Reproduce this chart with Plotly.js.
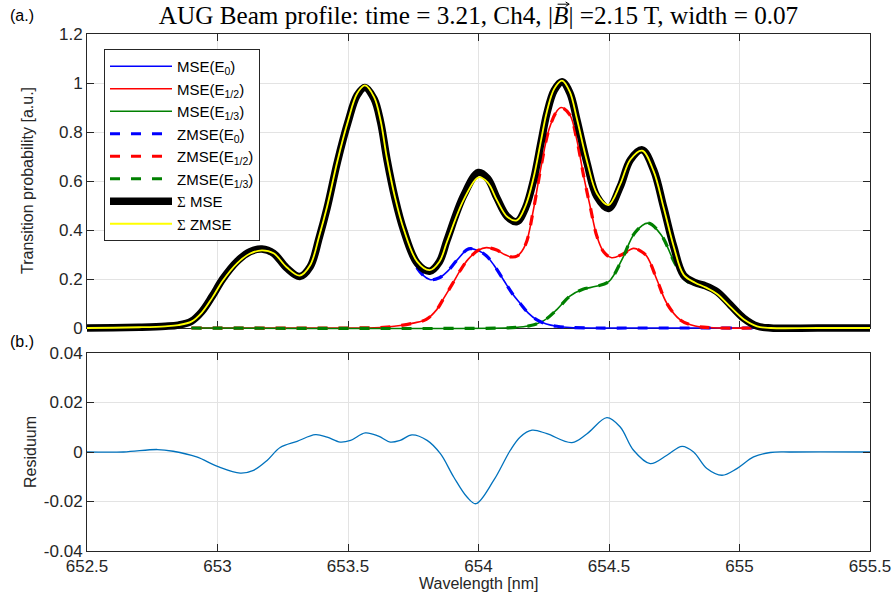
<!DOCTYPE html>
<html>
<head>
<meta charset="utf-8">
<script src="https://cdn.plot.ly/plotly-3.0.1.min.js"></script>
<style>
  html, body { margin: 0; padding: 0; background: #ffffff; }
  #chart { width: 894px; height: 599px; }
</style>
</head>
<body>
<div id="chart"></div>
<script>
// ---- Wavelength grid and profile values (nm, a.u.) ----
const tickVals = [652.5, 653, 653.5, 654, 654.5, 655, 655.5];
const tickText = ['652.5', '653', '653.5', '654', '654.5', '655', '655.5'];
const yTopVals = [0, 0.2, 0.4, 0.6, 0.8, 1, 1.2];
const yTopText = ['0', '0.2', '0.4', '0.6', '0.8', '1', '1.2'];
const yResVals = [-0.04, -0.02, 0, 0.02, 0.04];
const yResText = ['-0.04', '-0.02', '0', '0.02', '0.04'];

// Summed spectra
const sumX = [652.5, 652.6, 652.7, 652.8, 652.85, 652.9, 652.94, 652.98, 653.02, 653.075,
  653.125, 653.17, 653.215, 653.265, 653.315, 653.355, 653.39, 653.42, 653.46, 653.5,
  653.535, 653.565, 653.6, 653.625, 653.649, 653.68, 653.713, 653.765, 653.813, 653.85,
  653.88, 653.943, 654.0, 654.035, 654.071, 654.11, 654.147, 654.18, 654.211, 654.24,
  654.262, 654.29, 654.32, 654.35, 654.377, 654.416, 654.454, 654.498, 654.543, 654.582,
  654.627, 654.671, 654.709, 654.748, 654.786, 654.83, 654.87, 654.914, 654.965, 655.016,
  655.067, 655.12, 655.3, 655.5];
const sumMSE = [0, 0.001, 0.003, 0.007, 0.012, 0.028, 0.067, 0.13, 0.2, 0.272,
  0.312, 0.322, 0.305, 0.245, 0.21, 0.25, 0.37, 0.49, 0.68, 0.84,
  0.95, 0.982, 0.935, 0.84, 0.69, 0.53, 0.4, 0.265, 0.232, 0.27,
  0.36, 0.54, 0.635, 0.61, 0.53, 0.455, 0.434, 0.49, 0.604, 0.76,
  0.876, 0.97, 1.005, 0.96, 0.849, 0.672, 0.536, 0.488, 0.577, 0.686,
  0.727, 0.645, 0.495, 0.332, 0.215, 0.185, 0.172, 0.148, 0.094, 0.04,
  0.008, 0, 0, 0];
const sumZMSE = [0, 0.001, 0.003, 0.007, 0.012, 0.026, 0.063, 0.124, 0.193, 0.264,
  0.304, 0.317, 0.305, 0.248, 0.214, 0.256, 0.377, 0.496, 0.684, 0.845,
  0.957, 0.99, 0.942, 0.846, 0.694, 0.534, 0.405, 0.271, 0.236, 0.27,
  0.354, 0.523, 0.615, 0.594, 0.521, 0.454, 0.439, 0.498, 0.613, 0.768,
  0.883, 0.976, 1.01, 0.964, 0.854, 0.679, 0.548, 0.502, 0.587, 0.688,
  0.724, 0.64, 0.493, 0.333, 0.217, 0.185, 0.166, 0.139, 0.086, 0.036,
  0.007, 0, 0, 0];

// Beam energy components: full energy E0
const e0X = [652.9, 652.94, 652.98, 653.02, 653.075, 653.125, 653.17, 653.215, 653.265, 653.315,
  653.355, 653.39, 653.42, 653.46, 653.5, 653.535, 653.565, 653.6, 653.625, 653.649,
  653.68, 653.713, 653.765, 653.813, 653.85, 653.88, 653.92, 653.962, 654.0, 654.03,
  654.06, 654.096, 654.13, 654.16, 654.19, 654.224, 654.26, 654.3, 654.35, 654.45,
  654.6, 654.8, 655.05];
const e0 = [0.028, 0.067, 0.13, 0.2, 0.272, 0.312, 0.322, 0.305, 0.245, 0.21,
  0.25, 0.37, 0.49, 0.68, 0.84, 0.95, 0.982, 0.935, 0.84, 0.688,
  0.525, 0.39, 0.245, 0.198, 0.205, 0.23, 0.28, 0.323, 0.315, 0.295,
  0.255, 0.196, 0.14, 0.1, 0.062, 0.033, 0.016, 0.007, 0.002, 0,
  0, 0, 0];

// Half energy E1/2
const e12X = [652.9, 653.5, 653.6, 653.65, 653.7, 653.75, 653.8, 653.84, 653.866, 653.9,
  653.93, 653.96, 654.0, 654.03, 654.07, 654.1, 654.125, 654.15, 654.18, 654.21,
  654.24, 654.27, 654.3, 654.317, 654.35, 654.377, 654.403, 654.428, 654.454, 654.48,
  654.51, 654.55, 654.594, 654.62, 654.646, 654.684, 654.722, 654.773, 654.83, 654.9,
  655.05];
const e12 = [0, 0, 0.001, 0.004, 0.01, 0.02, 0.035, 0.075, 0.12, 0.18,
  0.235, 0.28, 0.318, 0.328, 0.318, 0.3, 0.29, 0.295, 0.34, 0.48,
  0.66, 0.81, 0.885, 0.9, 0.87, 0.767, 0.62, 0.495, 0.373, 0.31,
  0.287, 0.3, 0.325, 0.315, 0.291, 0.196, 0.1, 0.033, 0.008, 0.001,
  0];

// Third energy E1/3
const e13X = [652.9, 654.1, 654.15, 654.2, 654.25, 654.3, 654.35, 654.4, 654.45, 654.5,
  654.55, 654.6, 654.65, 654.7, 654.75, 654.8, 654.85, 654.9, 654.95, 655.0, 655.05];
const e13 = [0, 0, 0.003, 0.01, 0.03, 0.075, 0.13, 0.158, 0.17, 0.19,
  0.28, 0.39, 0.428, 0.38, 0.27, 0.19, 0.172, 0.155, 0.105, 0.052, 0.015];

// Residuum between the summed spectra
const resX = [652.5, 652.64, 652.77, 652.83, 652.92, 653.0, 653.087, 653.138, 653.19, 653.24,
  653.305, 653.375, 653.42, 653.47, 653.51, 653.566, 653.617, 653.662, 653.7, 653.745,
  653.803, 653.854, 653.905, 653.956, 653.99, 654.058, 654.122, 654.16, 654.205, 654.262,
  654.358, 654.416, 654.492, 654.543, 654.594, 654.658, 654.722, 654.78, 654.824, 654.875,
  654.933, 654.99, 655.054, 655.118, 655.2, 655.5];
const resid = [0, 0, 0.001, 0.0003, -0.002, -0.0058, -0.0085, -0.0074, -0.0034, 0.0018,
  0.0043, 0.007, 0.006, 0.004, 0.0047, 0.0077, 0.0064, 0.004, 0.0047, 0.0069,
  0.0047, -0.0007, -0.0101, -0.0182, -0.0209, -0.0115, 0.0007, 0.0061, 0.0088, 0.0074,
  0.0038, 0.0074, 0.0139, 0.0101, 0.0007, -0.0047, -0.0013, 0.0023, 0, -0.0067,
  -0.0094, -0.0067, -0.002, -0.0002, 0, 0];

// ---- Geometry (pixels) ----
const FIG_W = 894, FIG_H = 599;
const M = { l: 80, r: 18, t: 28, b: 48 };
const PW = FIG_W - M.l - M.r, PH = FIG_H - M.t - M.b;
const AX_L = 87, AX_R = 870;          // axes box, horizontal
const TOP_Y0 = 34, TOP_Y1 = 328;      // upper axes box, vertical
const BOT_Y0 = 353, BOT_Y1 = 551;     // lower axes box, vertical
const xd = p => (p - M.l) / PW;
const yd = p => (M.t + PH - p) / PH;

// Upper spectra are drawn on a slightly larger, hidden pair of axes with the same
// scale, so the thick sum line is not cut at the axes box.
const xPerPx = 3 / (AX_R - AX_L);
const yPerPx = 1.2 / (TOP_Y1 - TOP_Y0);
const padY = 8;
const ovXRange = [652.5 - (AX_L - M.l) * xPerPx, 655.5 + (M.l + PW - AX_R) * xPerPx];
const ovYDom = [yd(TOP_Y1 + padY), 1];
const ovYRange = [-padY * yPerPx, 1.2 + (TOP_Y0 - M.t) * yPerPx];

const FRAME = '#262626', GRID = '#e3e3e3';
const sans = 'Liberation Sans, Arial, sans-serif';
const serif = 'Liberation Serif, Times New Roman, serif';
const tickFont = { family: sans, size: 17, color: FRAME };
const TITLE_SIZE = 25.2;

function line(x, y, name, color, width, dash) {
  return {
    type: 'scatter', mode: 'lines', x: x, y: y, name: name,
    xaxis: 'x3', yaxis: 'y3',
    line: { color: color, width: width, dash: dash || 'solid', shape: 'spline', smoothing: 1 },
    hoverinfo: 'skip'
  };
}
const DASH = '10px,11px';
const sigma = '<span style="font-family:Liberation Serif">Σ</span>';

const traces = [
  // keeps the upper axes box, ticks and grid on the page
  { type: 'scatter', mode: 'lines', x: [], y: [], xaxis: 'x', yaxis: 'y', showlegend: false, hoverinfo: 'skip' },
  line(e0X, e0, 'MSE(E<sub>0</sub>)', '#0000ff', 1.6),
  line(e12X, e12, 'MSE(E<sub>1/2</sub>)', '#ff0000', 1.6),
  line(e13X, e13, 'MSE(E<sub>1/3</sub>)', '#008000', 1.6),
  line(e0X, e0, 'ZMSE(E<sub>0</sub>)', '#0000ff', 3.2, DASH),
  line(e12X, e12, 'ZMSE(E<sub>1/2</sub>)', '#ff0000', 3.2, DASH),
  line(e13X, e13, 'ZMSE(E<sub>1/3</sub>)', '#008000', 3.2, DASH),
  line(sumX, sumMSE, sigma + ' MSE', '#000000', 7.5),
  line(sumX, sumZMSE, sigma + ' ZMSE', '#ffff00', 1.8),
  {
    type: 'scatter', mode: 'lines', x: resX, y: resid, name: 'Residuum',
    xaxis: 'x2', yaxis: 'y2', showlegend: false, hoverinfo: 'skip',
    line: { color: '#0072bd', width: 1.3, shape: 'spline', smoothing: 1 }
  }
];

const axisCommon = {
  showline: true, linecolor: FRAME, linewidth: 1, mirror: 'ticks',
  ticks: 'inside', ticklen: 7, tickwidth: 1, tickcolor: FRAME,
  showgrid: true, gridcolor: GRID, gridwidth: 1, zeroline: false,
  tickfont: tickFont, tickmode: 'array', fixedrange: true
};

const layout = {
  width: FIG_W, height: FIG_H,
  margin: M,
  paper_bgcolor: '#ffffff', plot_bgcolor: 'rgba(0,0,0,0)',
  showlegend: true,
  title: {
    text: 'AUG Beam profile: time = 3.21, Ch4, |<i>B</i>| =2.15 T, width = 0.07',
    font: { family: serif, size: TITLE_SIZE, color: '#000000' },
    x: xd((AX_L + AX_R) / 2), xref: 'paper', xanchor: 'center',
    y: 1 - 15 / FIG_H, yref: 'container', yanchor: 'middle'
  },
  xaxis: Object.assign({}, axisCommon, {
    domain: [xd(AX_L), xd(AX_R)], range: [652.5, 655.5], anchor: 'y',
    tickvals: tickVals, ticktext: tickText, showticklabels: false
  }),
  yaxis: Object.assign({}, axisCommon, {
    domain: [yd(TOP_Y1), yd(TOP_Y0)], range: [0, 1.2], anchor: 'x',
    tickvals: yTopVals, ticktext: yTopText
  }),
  xaxis2: Object.assign({}, axisCommon, {
    domain: [xd(AX_L), xd(AX_R)], range: [652.5, 655.5], anchor: 'y2',
    tickvals: tickVals, ticktext: tickText
  }),
  yaxis2: Object.assign({}, axisCommon, {
    domain: [0, yd(BOT_Y0)], range: [-0.04, 0.04], anchor: 'x2',
    tickvals: yResVals, ticktext: yResText
  }),
  xaxis3: { domain: [0, 1], range: ovXRange, anchor: 'y3', visible: false, fixedrange: true },
  yaxis3: { domain: ovYDom, range: ovYRange, anchor: 'x3', visible: false, fixedrange: true },
  legend: {
    x: xd(104), y: yd(49), xanchor: 'left', yanchor: 'top',
    bgcolor: '#ffffff', bordercolor: FRAME, borderwidth: 1,
    font: { family: sans, size: 15, color: '#000000' },
    tracegroupgap: 0, itemwidth: 62
  },
  annotations: [
    { text: '(a.)', xref: 'paper', yref: 'paper', x: xd(8), y: yd(15), xanchor: 'left', yanchor: 'middle',
      showarrow: false, font: { family: sans, size: 16, color: '#000000' } },
    { text: '(b.)', xref: 'paper', yref: 'paper', x: xd(8), y: yd(341), xanchor: 'left', yanchor: 'middle',
      showarrow: false, font: { family: sans, size: 16, color: '#000000' } },
    { text: 'Transition probability [a.u.]', xref: 'paper', yref: 'paper', x: xd(28), y: yd((TOP_Y0 + TOP_Y1) / 2),
      xanchor: 'center', yanchor: 'middle', textangle: -90, showarrow: false,
      font: { family: sans, size: 16, color: FRAME } },
    { text: 'Residuum', xref: 'paper', yref: 'paper', x: xd(30), y: yd((BOT_Y0 + BOT_Y1) / 2),
      xanchor: 'center', yanchor: 'middle', textangle: -90, showarrow: false,
      font: { family: sans, size: 16, color: FRAME } },
    { text: 'Wavelength [nm]', xref: 'paper', yref: 'paper', x: xd((AX_L + AX_R) / 2), y: yd(583),
      xanchor: 'center', yanchor: 'middle', showarrow: false,
      font: { family: sans, size: 16, color: FRAME } }
  ]
};

Plotly.newPlot('chart', traces, layout, { displayModeBar: false, staticPlot: true }).then(gd => {
  // small vector arrow over the italic B of the title
  const t = gd.querySelector('.gtitle');
  if (!t) return;
  const s = t.textContent;
  const idx = s.indexOf('B', s.indexOf('|'));
  if (idx < 0) return;
  const ext = t.getExtentOfChar(idx);
  const base = t.getStartPositionOfChar(idx);
  const ctm = t.getScreenCTM();
  const box = gd.getBoundingClientRect();
  const toX = v => ctm.a * v + ctm.e - box.left;
  const toY = v => ctm.d * v + ctm.f - box.top;
  const x0 = toX(ext.x + ext.width * 0.3);
  const x1 = toX(ext.x + ext.width * 1.05);
  const yA = toY(base.y) - 0.66 * TITLE_SIZE - 3;
  const hx = 3.5 / PW, hy = 2.2 / PH;
  const X0 = xd(x0), X1 = xd(x1), Y = yd(yA);
  const path = `M${X0},${Y} L${X1},${Y} M${X1 - hx},${Y + hy} L${X1},${Y} L${X1 - hx},${Y - hy}`;
  return Plotly.relayout(gd, {
    shapes: [{ type: 'path', xref: 'paper', yref: 'paper', path: path,
      line: { color: '#000000', width: 1 } }]
  });
});
</script>
</body>
</html>
